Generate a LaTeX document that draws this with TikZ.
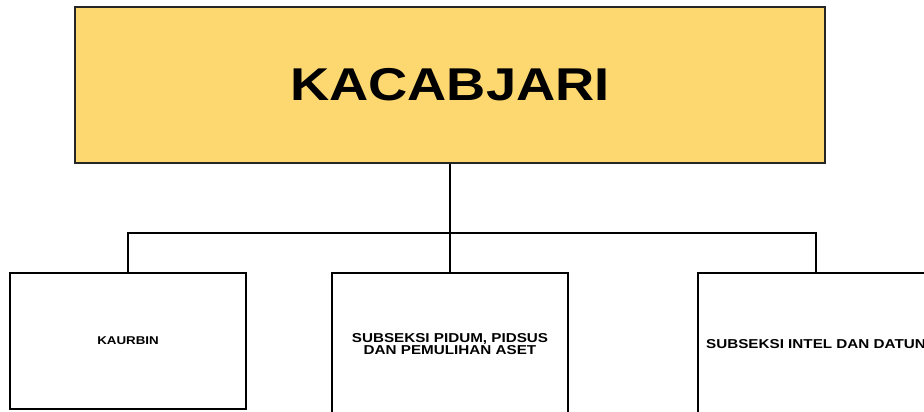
\documentclass[tikz,border=0pt]{standalone}
\usepackage{fontspec}
\newfontfamily\orgfont[FakeStretch=1.18]{Liberation Sans}
\usetikzlibrary{positioning}
\definecolor{headyellow}{HTML}{FDD76F}

\begin{document}
\begin{tikzpicture}[x=1pt,y=-1pt,line width=1.8pt,
				head node/.style={draw=black!85,fill=headyellow,line width=1.5pt,inner sep=0pt,
					minimum width=750pt,minimum height=156pt,font=\orgfont\bfseries\fontsize{46}{46}\selectfont},
				unit node/.style={draw,line width=1.8pt,inner sep=0pt,align=center,minimum width=236pt,
					font=\orgfont\bfseries\fontsize{12.9}{12}\selectfont}]

				\useasboundingbox (0,0) rectangle (924,412);
				\clip (0,0) rectangle (924,412);

				\node[head node] (1) at (450,85) {KACABJARI};
				\node[unit node,minimum height=136pt,font=\orgfont\bfseries\fontsize{11.3}{12}\selectfont] (2) at (128,341) {KAURBIN};
				\node[unit node,minimum height=142pt] (3) at (450,344) {SUBSEKSI PIDUM, PIDSUS\\DAN PEMULIHAN ASET};
				\node[unit node,minimum height=142pt] (4) at (816,344) {SUBSEKSI INTEL DAN DATUN};
				\coordinate (hub) at (450,233);

				\draw (1.south) -- (3.north);
				\draw (2.north) |- (hub) -| (4.north);
\end{tikzpicture}
\end{document}
